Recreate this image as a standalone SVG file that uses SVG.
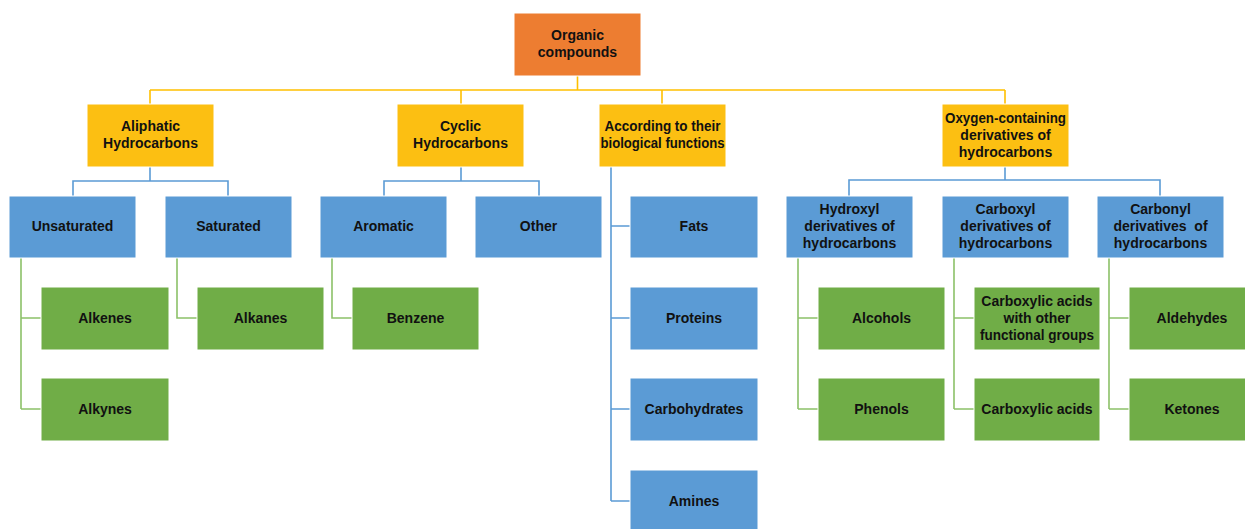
<svg xmlns="http://www.w3.org/2000/svg" width="1245" height="529" viewBox="0 0 1245 529">
  <style>
    .box { stroke: #ffffff; stroke-width: 1; }
    .root { fill: #ED7D31; }
    .cat { fill: #FCBF12; }
    .sub { fill: #5B9BD5; }
    .leaf { fill: #70AD47; }
    .lbl { font-family: "Liberation Sans", Arial, sans-serif; font-weight: bold; font-size: 14px; fill: #111111; text-anchor: middle; }
    .c-gold { stroke: #FFC000; stroke-width: 1.6; fill: none; }
    .c-blue { stroke: #5B9BD5; stroke-width: 1.6; fill: none; }
    .c-green { stroke: #8CC168; stroke-width: 1.6; fill: none; }
  </style>
  <rect width="1245" height="529" fill="#ffffff"/>

  <!-- connectors -->
  <g id="connectors">
    <path class="c-gold" d="M577.5 76 V90 M150 90 H1005 M150 90 V104 M461 90 V104 M662 90 V104 M1005 90 V104"/>
    <path class="c-blue" d="M150 167 V181 M73 196 V181 H228 V196"/>
    <path class="c-blue" d="M461 167 V181 M384 196 V181 H539 V196"/>
    <path class="c-blue" d="M611 167 V501 M611 226 H630 M611 318 H630 M611 409 H630 M611 501 H630"/>
    <path class="c-blue" d="M1005 167 V180 M849 196 V180 H1160 V196"/>
    <path class="c-green" d="M21 258 V409 M21 318 H41 M21 409 H41"/>
    <path class="c-green" d="M177 258 V318 H197"/>
    <path class="c-green" d="M332 258 V318 H352"/>
    <path class="c-green" d="M798 258 V409 M798 318 H818 M798 409 H818"/>
    <path class="c-green" d="M954 258 V409 M954 318 H974 M954 409 H974"/>
    <path class="c-green" d="M1109 258 V409 M1109 318 H1129 M1109 409 H1129"/>
  </g>

  <!-- root -->
  <g id="organic-compounds">
    <rect class="box root" x="514" y="13" width="127" height="63"/>
    <text class="lbl" x="577.5" y="40">Organic</text>
    <text class="lbl" x="577.5" y="57">compounds</text>
  </g>

  <!-- categories -->
  <g id="aliphatic">
    <rect class="box cat" x="87" y="104" width="127" height="63"/>
    <text class="lbl" x="150.5" y="131">Aliphatic</text>
    <text class="lbl" x="150.5" y="148">Hydrocarbons</text>
  </g>
  <g id="cyclic">
    <rect class="box cat" x="397" y="104" width="127" height="63"/>
    <text class="lbl" x="460.5" y="131">Cyclic</text>
    <text class="lbl" x="460.5" y="148">Hydrocarbons</text>
  </g>
  <g id="biological">
    <rect class="box cat" x="599" y="104" width="127" height="63"/>
    <text class="lbl" x="662.5" y="131" textLength="116" lengthAdjust="spacingAndGlyphs">According to their</text>
    <text class="lbl" x="662.5" y="148" textLength="124" lengthAdjust="spacingAndGlyphs">biological functions</text>
  </g>
  <g id="oxygen">
    <rect class="box cat" x="942" y="104" width="127" height="63"/>
    <text class="lbl" x="1005.5" y="123" textLength="121" lengthAdjust="spacingAndGlyphs">Oxygen-containing</text>
    <text class="lbl" x="1005.5" y="140">derivatives of</text>
    <text class="lbl" x="1005.5" y="157">hydrocarbons</text>
  </g>

  <!-- sub-categories -->
  <g id="unsaturated">
    <rect class="box sub" x="9" y="196" width="127" height="62"/>
    <text class="lbl" x="72.5" y="231">Unsaturated</text>
  </g>
  <g id="saturated">
    <rect class="box sub" x="165" y="196" width="127" height="62"/>
    <text class="lbl" x="228.5" y="231">Saturated</text>
  </g>
  <g id="aromatic">
    <rect class="box sub" x="320" y="196" width="127" height="62"/>
    <text class="lbl" x="383.5" y="231">Aromatic</text>
  </g>
  <g id="other">
    <rect class="box sub" x="475" y="196" width="127" height="62"/>
    <text class="lbl" x="538.5" y="231">Other</text>
  </g>
  <g id="fats">
    <rect class="box sub" x="630" y="196" width="128" height="62"/>
    <text class="lbl" x="694" y="231">Fats</text>
  </g>
  <g id="hydroxyl">
    <rect class="box sub" x="786" y="196" width="127" height="62"/>
    <text class="lbl" x="849.5" y="214">Hydroxyl</text>
    <text class="lbl" x="849.5" y="231">derivatives of</text>
    <text class="lbl" x="849.5" y="248">hydrocarbons</text>
  </g>
  <g id="carboxyl">
    <rect class="box sub" x="942" y="196" width="127" height="62"/>
    <text class="lbl" x="1005.5" y="214">Carboxyl</text>
    <text class="lbl" x="1005.5" y="231">derivatives of</text>
    <text class="lbl" x="1005.5" y="248">hydrocarbons</text>
  </g>
  <g id="carbonyl">
    <rect class="box sub" x="1097" y="196" width="127" height="62"/>
    <text class="lbl" x="1160.5" y="214">Carbonyl</text>
    <text class="lbl" x="1160.5" y="231" xml:space="preserve">derivatives  of</text>
    <text class="lbl" x="1160.5" y="248">hydrocarbons</text>
  </g>

  <!-- biological function items -->
  <g id="proteins">
    <rect class="box sub" x="630" y="287" width="128" height="63"/>
    <text class="lbl" x="694" y="323">Proteins</text>
  </g>
  <g id="carbohydrates">
    <rect class="box sub" x="630" y="378" width="128" height="63"/>
    <text class="lbl" x="694" y="414">Carbohydrates</text>
  </g>
  <g id="amines">
    <rect class="box sub" x="630" y="470" width="128" height="63"/>
    <text class="lbl" x="694" y="506">Amines</text>
  </g>

  <!-- leaves -->
  <g id="alkenes">
    <rect class="box leaf" x="41" y="287" width="128" height="63"/>
    <text class="lbl" x="105" y="323">Alkenes</text>
  </g>
  <g id="alkynes">
    <rect class="box leaf" x="41" y="378" width="128" height="63"/>
    <text class="lbl" x="105" y="414">Alkynes</text>
  </g>
  <g id="alkanes">
    <rect class="box leaf" x="197" y="287" width="127" height="63"/>
    <text class="lbl" x="260.5" y="323">Alkanes</text>
  </g>
  <g id="benzene">
    <rect class="box leaf" x="352" y="287" width="127" height="63"/>
    <text class="lbl" x="415.5" y="323">Benzene</text>
  </g>
  <g id="alcohols">
    <rect class="box leaf" x="818" y="287" width="127" height="63"/>
    <text class="lbl" x="881.5" y="323">Alcohols</text>
  </g>
  <g id="phenols">
    <rect class="box leaf" x="818" y="378" width="127" height="63"/>
    <text class="lbl" x="881.5" y="414">Phenols</text>
  </g>
  <g id="carboxylic-other">
    <rect class="box leaf" x="974" y="287" width="126" height="63"/>
    <text class="lbl" x="1037" y="306">Carboxylic acids</text>
    <text class="lbl" x="1037" y="323">with other</text>
    <text class="lbl" x="1037" y="340" textLength="114" lengthAdjust="spacingAndGlyphs">functional groups</text>
  </g>
  <g id="carboxylic-acids">
    <rect class="box leaf" x="974" y="378" width="126" height="63"/>
    <text class="lbl" x="1037" y="414">Carboxylic acids</text>
  </g>
  <g id="aldehydes">
    <rect class="box leaf" x="1129" y="287" width="127" height="63"/>
    <text class="lbl" x="1192" y="323">Aldehydes</text>
  </g>
  <g id="ketones">
    <rect class="box leaf" x="1129" y="378" width="127" height="63"/>
    <text class="lbl" x="1192" y="414">Ketones</text>
  </g>
</svg>
